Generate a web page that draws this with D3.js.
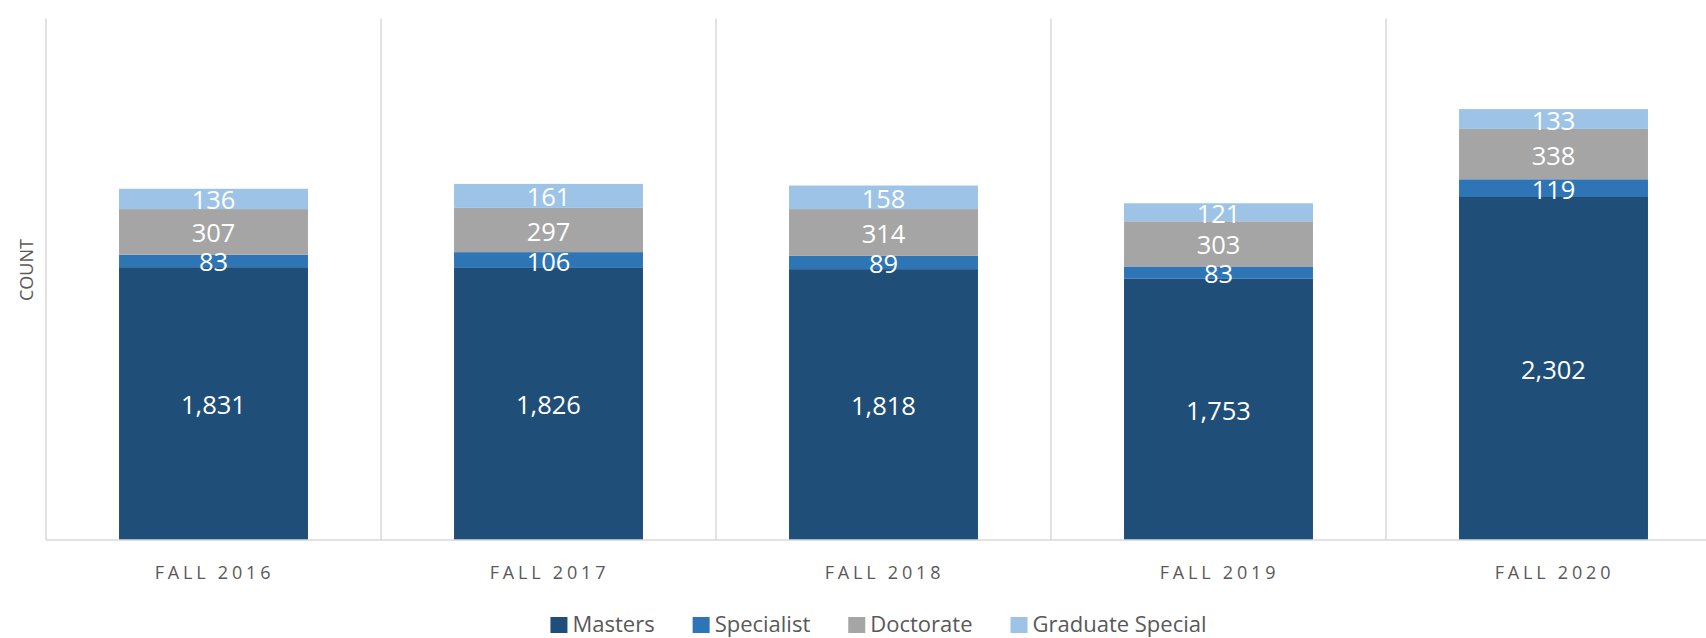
<!DOCTYPE html>
<html>
<head>
<meta charset="utf-8">
<script src="https://cdn.jsdelivr.net/npm/d3@7"></script>
<style>
  html, body { margin: 0; padding: 0; background: #fff; }
  svg { display: block; }
</style>
</head>
<body>
<svg id="chart" width="1706" height="638"></svg>
<script>
const categories = ["FALL 2016", "FALL 2017", "FALL 2018", "FALL 2019", "FALL 2020"];
const seriesNames = ["Masters", "Specialist", "Doctorate", "Graduate Special"];
const masters = [1831, 1826, 1818, 1753, 2302];
const specialist = [83, 106, 89, 83, 119];
const doctorate = [307, 297, 314, 303, 338];
const graduateSpecial = [136, 161, 158, 121, 133];
const colors = ["#1F4E79", "#2E75B6", "#A5A5A5", "#9DC3E6"];
const yMax = 3500;

(function () {
const seriesValues = [masters, specialist, doctorate, graduateSpecial];
const rows = categories.map((c, i) => {
  const r = { cat: c };
  seriesNames.forEach((s, j) => r[s] = seriesValues[j][i]);
  return r;
});

const svg = d3.select("#chart");
const plotLeft = 46, plotRight = 1721, plotTop = 18.5, plotBottom = 540;

const x = d3.scaleBand().domain(categories).range([plotLeft, plotRight])
  .paddingInner(0.436).paddingOuter(0.218);
const y = d3.scaleLinear().domain([0, yMax]).range([plotBottom, plotTop]);

const step = x.step();
const grid = svg.append("g");
d3.range(categories.length + 1).forEach(i => {
  const gx = x.range()[0] + i * step;
  grid.append("line").attr("x1", gx).attr("x2", gx).attr("y1", plotTop).attr("y2", plotBottom)
    .attr("stroke", "#D9D9D9").attr("stroke-width", 1.5);
});

const stack = d3.stack().keys(seriesNames)(rows);

const layers = svg.append("g").selectAll("g").data(stack).join("g")
  .attr("fill", (d, i) => colors[i]);
layers.selectAll("rect").data(d => d).join("rect")
  .attr("x", d => x(d.data.cat))
  .attr("width", x.bandwidth())
  .attr("y", d => y(d[1]))
  .attr("height", d => y(d[0]) - y(d[1]));

svg.append("line").attr("x1", plotLeft).attr("x2", plotRight).attr("y1", plotBottom).attr("y2", plotBottom)
  .attr("stroke", "#D9D9D9").attr("stroke-width", 1.5);

const fmt = d3.format(",");
const labels = svg.append("g").attr("font-family", "'Open Sans', sans-serif")
  .attr("font-size", 25.5).attr("fill", "#fff").attr("text-anchor", "middle");
stack.forEach(layer => {
  layer.forEach(d => {
    const cy = (y(d[0]) + y(d[1])) / 2;
    labels.append("text")
      .attr("x", x(d.data.cat) + x.bandwidth() / 2)
      .attr("y", cy + 10.5)
      .text(fmt(d[1] - d[0]));
  });
});

const xa = svg.append("g").attr("font-family", "'Open Sans', sans-serif")
  .attr("font-size", 18).attr("fill", "#595959").attr("text-anchor", "middle")
  .attr("letter-spacing", 3.8);
categories.forEach(c => {
  xa.append("text").attr("x", x(c) + x.bandwidth() / 2 + 1).attr("y", 579).text(c);
});

svg.append("text").attr("transform", "translate(33,270) rotate(-90)")
  .attr("font-family", "'Open Sans', sans-serif").attr("font-size", 18)
  .attr("fill", "#595959").attr("text-anchor", "middle").text("COUNT");

const legend = svg.append("g").attr("font-family", "'Open Sans', sans-serif")
  .attr("font-size", 22).attr("fill", "#595959");
const items = [];
seriesNames.forEach((s, i) => {
  const g = legend.append("g");
  g.append("rect").attr("x", 0).attr("y", 617).attr("width", 17).attr("height", 16).attr("fill", colors[i]);
  const t = g.append("text").attr("x", 22).attr("y", 632).text(s);
  items.push({ g, w: 22 + t.node().getComputedTextLength() });
});
const gap = 38;
const total = d3.sum(items, d => d.w) + gap * (items.length - 1);
let pos = 878.5 - total / 2;
items.forEach(it => {
  it.g.attr("transform", `translate(${pos},0)`);
  pos += it.w + gap;
});
})();
</script>
</body>
</html>
